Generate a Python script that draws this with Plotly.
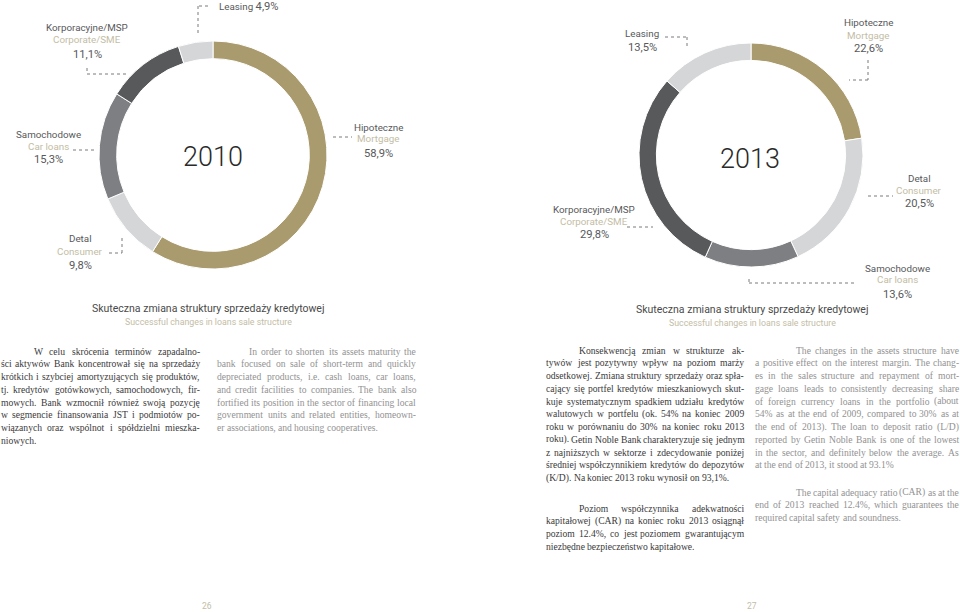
import plotly.graph_objects as go

W, H = 960, 612

# ---------------- data ----------------
segments_pl = ["Hipoteczne", "Detal", "Samochodowe", "Korporacyjne/MSP", "Leasing"]
segments_en = ["Mortgage", "Consumer", "Car loans", "Corporate/SME", "Leasing"]
share_2010 = [58.9, 9.8, 15.3, 11.1, 4.9]
share_2013 = [22.6, 20.5, 13.6, 29.8, 13.5]
seg_colors = ["#a99b6d", "#d5d6d8", "#7e7f83", "#58595b", "#d5d6d8"]
years = ["2010", "2013"]

caption_pl = "Skuteczna zmiana struktury sprzedaży kredytowej"
caption_en = "Successful changes in loans sale structure"
page_numbers = ["26", "27"]

left_pl = [
    "W celu skrócenia terminów zapadalno-",
    "ści aktywów Bank koncentrował się na sprzedaży",
    "krótkich i szybciej amortyzujących się produktów,",
    "tj. kredytów gotówkowych, samochodowych, fir-",
    "mowych. Bank wzmocnił również swoją pozycję",
    "w segmencie finansowania JST i podmiotów po-",
    "wiązanych oraz wspólnot i spółdzielni mieszka-",
    "niowych.",
]
left_en = [
    "In order to shorten its assets maturity the",
    "bank focused on sale of short-term and quickly",
    "depreciated products, i.e. cash loans, car loans,",
    "and credit facilities to companies. The bank also",
    "fortified its position in the sector of financing local",
    "government units and related entities, homeown-",
    "er associations, and housing cooperatives.",
]
right_pl_1 = [
    "Konsekwencją zmian w strukturze ak-",
    "tywów jest pozytywny wpływ na poziom marży",
    "odsetkowej. Zmiana struktury sprzedaży oraz spła-",
    "cający się portfel kredytów mieszkaniowych skut-",
    "kuje systematycznym spadkiem udziału kredytów",
    "walutowych w portfelu (ok. 54% na koniec 2009",
    "roku w porównaniu do 30% na koniec roku 2013",
    "roku). Getin Noble Bank charakteryzuje się jednym",
    "z najniższych w sektorze i zdecydowanie poniżej",
    "średniej współczynnikiem kredytów do depozytów",
    "(K/D). Na koniec 2013 roku wynosił on 93,1%.",
]
right_pl_2 = [
    "Poziom współczynnika adekwatności",
    "kapitałowej (CAR) na koniec roku 2013 osiągnął",
    "poziom 12.4%, co jest poziomem gwarantującym",
    "niezbędne bezpieczeństwo kapitałowe.",
]
right_en_1 = [
    "The changes in the assets structure have",
    "a positive effect on the interest margin. The chang-",
    "es in the sales structure and repayment of mort-",
    "gage loans leads to consistently decreasing share",
    "of foreign currency loans in the portfolio (about",
    "54% as at the end of 2009, compared to 30% as at",
    "the end of 2013). The loan to deposit ratio (L/D)",
    "reported by Getin Noble Bank is one of the lowest",
    "in the sector, and definitely below the average. As",
    "at the end of 2013, it stood at 93.1%",
]
right_en_2 = [
    "The capital adequacy ratio (CAR) as at the",
    "end of 2013 reached 12.4%, which guarantees the",
    "required capital safety and soundness.",
]

# ---------------- styles ----------------
SANS = "Roboto, sans-serif"
SERIF = "Liberation Serif, serif"
C_PL = "#58595b"
C_EN = "#c3bda5"
C_TXT = "#3a3a3a"
C_TXT_EN = "#929292"
C_LEAD = "#7a7a7a"
PARA_SIZE = 9.6
LBL = 9.8
PCT = 11.2

# Times/Liberation Serif advance widths (1/1000 em) for justification
_TW = {" ": 250, "%": 833, "(": 333, ")": 333, ",": 250, "-": 333, ".": 250,
       "/": 278, ":": 278, ";": 278}
_TW.update({d: 500 for d in "0123456789"})
_TW.update(dict(zip("ABCDEFGHIJKLMNOPQRSTUVWXYZ",
                    [722, 667, 667, 722, 611, 556, 722, 722, 333, 389, 722, 611, 889,
                     722, 722, 556, 722, 667, 556, 611, 722, 722, 944, 722, 722, 611])))
_TW.update(dict(zip("abcdefghijklmnopqrstuvwxyz",
                    [444, 500, 444, 500, 444, 333, 500, 500, 278, 278, 500, 278, 778,
                     500, 500, 500, 500, 333, 389, 278, 500, 500, 722, 500, 500, 444])))
_TW.update({"ą": 444, "ć": 444, "ę": 444, "ł": 278, "ń": 500, "ó": 500, "ś": 389,
            "ź": 444, "ż": 444, "Ś": 556, "Ż": 611, "Ł": 611})


def tw(s, size):
    return sum(_TW.get(c, 500) for c in s) * size / 1000.0


def px(x):
    return x / W


def py(y):
    return 1 - y / H


def fmt(v):
    return f"{v:.1f}".replace(".", ",") + "%"


fig = go.Figure()

# donut geometry (center x, center y, radius) in pixels
donuts = [(213, 155, 114), (751, 155, 112)]
for (cx, cy, r), vals in zip(donuts, [share_2010, share_2013]):
    fig.add_trace(go.Pie(
        values=vals, labels=segments_en, sort=False, direction="clockwise",
        rotation=0, hole=0.845, textinfo="none", hoverinfo="label+percent",
        marker=dict(colors=seg_colors, line=dict(color="white", width=1)),
        domain=dict(x=[px(cx - r), px(cx + r)], y=[py(cy + r), py(cy - r)]),
        showlegend=False,
    ))

ann = []


def text(x, y, s, size, color, family=SANS, xanchor="center", weight=None):
    f = dict(family=family, size=size, color=color)
    if weight:
        f["weight"] = weight
    ann.append(dict(x=px(x), y=py(y), xref="paper", yref="paper", text=s,
                    showarrow=False, xanchor=xanchor, yanchor="middle",
                    borderpad=0, font=f))


def label(x, y, i, vals):
    text(x, y, segments_pl[i], LBL, C_PL)
    text(x, y + 12, segments_en[i], LBL, C_EN)
    text(x, y + 26, fmt(vals[i]), PCT, C_PL)


shapes = []


def lead(pts):
    for (x0, y0), (x1, y1) in zip(pts[:-1], pts[1:]):
        shapes.append(dict(type="line", xref="paper", yref="paper",
                           x0=px(x0), y0=py(y0), x1=px(x1), y1=py(y1),
                           line=dict(color=C_LEAD, width=1, dash="dot")))


# ---- 2010 labels ----
v = share_2010
text(218, 7, f"Leasing <span style='font-size:{PCT}px'>{fmt(v[4])}</span>", LBL, C_PL, xanchor="left")
lead([(208, 6), (198, 6), (198, 33)])
label(87, 28, 3, v)
lead([(87, 68), (87, 74), (127, 74)])
label(48, 134, 2, v)
lead([(73, 150), (96, 150)])
label(378, 127, 0, v)
lead([(333, 137), (352, 137)])
label(80, 239, 1, v)
lead([(109, 253), (122, 253), (122, 237)])
text(213, 157, years[0], 27, "#2a2a2a", weight=300)
text(208, 308, caption_pl, 10.5, "#4a4a4a")
text(208, 322, caption_en, 8.8, C_EN)

# ---- 2013 labels ----
v = share_2013
text(642, 33, "Leasing", LBL, C_PL)
text(642, 48, fmt(v[4]), PCT, C_PL)
lead([(665, 37), (687, 37), (687, 49)])
label(868, 23, 0, v)
lead([(868, 60), (868, 80), (849, 80)])
label(919, 178, 1, v)
lead([(868, 196), (893, 196)])
label(594, 209, 3, v)
lead([(627, 227), (653, 227)])
label(897, 268, 2, v)
lead([(749, 279), (749, 283), (857, 283)])
text(750, 159, years[1], 27, "#2a2a2a", weight=300)
text(752, 309, caption_pl, 10.5, "#4a4a4a")
text(752, 323, caption_en, 8.8, C_EN)

# ---- justified paragraphs ----
LH = 12.75


def para(lines, x_left, x_right, x_indent, y0, color):
    n = len(lines)
    for k, s in enumerate(lines):
        y = y0 + k * LH
        x0 = x_indent if k == 0 else x_left
        words = s.split(" ")
        widths = [tw(w_, PARA_SIZE) for w_ in words]
        if k == n - 1 or len(words) == 1:
            gap = tw(" ", PARA_SIZE)
        else:
            gap = (x_right - x0 - sum(widths)) / (len(words) - 1)
        x = x0
        for w_, ww in zip(words, widths):
            text(x, y, w_, PARA_SIZE, color, family=SERIF, xanchor="left")
            x += ww + gap


para(left_pl, 0, 199, 33, 351, C_TXT)
para(left_en, 216, 415, 248, 351, C_TXT_EN)
para(right_pl_1, 545, 743, 578, 350, C_TXT)
para(right_pl_2, 545, 743, 578, 508, C_TXT)
para(right_en_1, 754, 958, 795, 350, C_TXT_EN)
para(right_en_2, 754, 958, 795, 492, C_TXT_EN)

# page numbers
text(207, 606, page_numbers[0], 8.5, C_EN)
text(752, 606, page_numbers[1], 8.5, C_EN)

fig.update_layout(
    width=W, height=H, margin=dict(l=0, r=0, t=0, b=0),
    paper_bgcolor="white", plot_bgcolor="white",
    annotations=ann, shapes=shapes,
)
fig.write_html(
    "out.html",
    config={"displayModeBar": False},
    post_script="document.body.style.margin='0';document.body.style.overflow='hidden';",
)
